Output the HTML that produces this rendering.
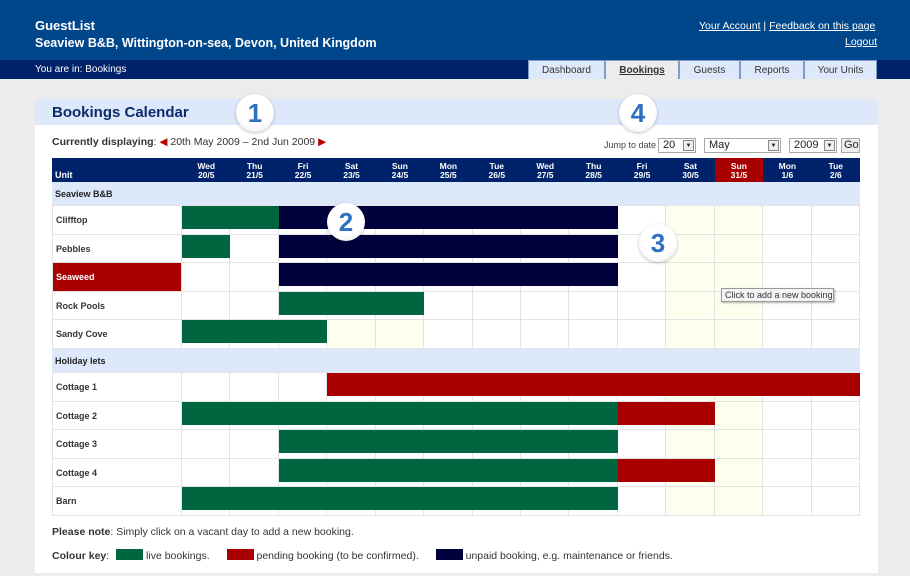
<!DOCTYPE html>
<html><head><meta charset="utf-8">
<style>
*{box-sizing:border-box;margin:0;padding:0}
body{width:910px;height:576px;background:#ececec;font-family:"Liberation Sans",sans-serif;position:relative;overflow:hidden;font-size:11px}
.abs{position:absolute;white-space:nowrap}
#header{left:0;top:0;width:910px;height:60px;background:#00468a}
#navbar{left:0;top:60px;width:910px;height:19px;background:#00226a}
.tab{position:absolute;top:60px;height:19px;background:#dde8fb;border:1px solid #7f9cc8;border-bottom:none;font-size:10px;color:#333;text-align:center;line-height:19px}
.tab.active{background:#ececec;font-weight:bold;text-decoration:underline}
#panel{left:35px;top:99px;width:843px;height:474px;background:#fff}
#titlebar{left:35px;top:99px;width:843px;height:26px;background:#dde8fb}
.badge{position:absolute;width:38px;height:38px;border-radius:50%;background:radial-gradient(circle at 50% 40%,#fff 55%,#e8e8e8 100%);box-shadow:0 1px 3px rgba(0,0,0,.25);color:#2f6fc0;font-weight:bold;font-size:26px;text-align:center;line-height:38px}
.sel{position:absolute;top:138px;height:15px;border:1px solid #aaa;background:#fff;font-size:11px;line-height:13px;padding-left:4px;color:#222}
.sel .arr{position:absolute;right:1px;top:1px;width:11px;height:11px;border:1px solid #888;background:#eee;font-size:6px;line-height:10px;text-align:center}
</style></head><body>
<div id="header" class="abs"></div>
<div class="abs" style="left:35px;top:18px;color:#fff;font-weight:bold;font-size:13px">GuestList</div>
<div class="abs" style="left:35px;top:36px;color:#fff;font-weight:bold;font-size:12.5px">Seaview B&amp;B, Wittington-on-sea, Devon, United Kingdom</div>
<div class="abs" style="left:699px;top:20px;color:#fff;font-size:10.5px"><span style="text-decoration:underline">Your Account</span> | <span style="text-decoration:underline">Feedback on this page</span></div>
<div class="abs" style="left:845px;top:36px;color:#fff;font-size:10.5px;text-decoration:underline">Logout</div>
<div id="navbar" class="abs"></div>
<div class="abs" style="left:35px;top:64px;color:#fff;font-size:10px">You are in: Bookings</div>
<div class="tab" style="left:528px;width:77px">Dashboard</div>
<div class="tab active" style="left:605px;width:74px">Bookings</div>
<div class="tab" style="left:679px;width:61px">Guests</div>
<div class="tab" style="left:740px;width:64px">Reports</div>
<div class="tab" style="left:804px;width:73px">Your Units</div>

<div id="panel" class="abs"></div>
<div id="titlebar" class="abs"></div>
<div class="abs" style="left:52px;top:104px;font-size:15px;font-weight:bold;color:#0d2a6b">Bookings Calendar</div>
<div class="abs" style="left:52px;top:136px;font-size:10.5px;color:#333"><b>Currently displaying</b>: <span style="color:#b00">◀</span> 20th May 2009 – 2nd Jun 2009 <span style="color:#b00">▶</span></div>
<div class="abs" style="left:604px;top:140px;font-size:9px;color:#444">Jump to date</div>
<div class="sel" style="left:658px;width:38px">20<span class="arr">▼</span></div>
<div class="sel" style="left:704px;width:77px">May<span class="arr">▼</span></div>
<div class="sel" style="left:789px;width:48px">2009<span class="arr">▼</span></div>
<div class="sel" style="left:841px;width:19px;padding-left:2px;background:#eee">Go</div>

<div id="grid" class="abs" style="left:0;top:0"></div>

<div class="abs" style="left:52px;top:526px;font-size:10.5px;color:#333"><b>Please note</b>: Simply click on a vacant day to add a new booking.</div>
<div class="abs" style="left:52px;top:549px;font-size:10.5px;color:#333;white-space:nowrap"><b>Colour key</b>:
<span style="display:inline-block;width:27px;height:11px;background:#006640;vertical-align:-1px;margin-left:4px"></span> live bookings.
<span style="display:inline-block;width:27px;height:11px;background:#a80000;vertical-align:-1px;margin-left:14px"></span> pending booking (to be confirmed).
<span style="display:inline-block;width:27px;height:11px;background:#00003c;vertical-align:-1px;margin-left:14px"></span> unpaid booking, e.g. maintenance or friends.</div>

<div class="abs" style="left:721px;top:288px;width:113px;height:14px;background:#f4f4f4;border:1px solid #999;box-shadow:1px 1px 2px rgba(0,0,0,.3);font-size:9px;color:#333;line-height:12px;padding-left:3px">Click to add a new booking</div>
<div class="badge" style="left:236px;top:94px">1</div>
<div class="badge" style="left:327px;top:203px">2</div>
<div class="badge" style="left:639px;top:224px">3</div>
<div class="badge" style="left:619px;top:94px">4</div>

<script>
const dayNames = ["Wed","Thu","Fri","Sat","Sun","Mon","Tue","Wed","Thu","Fri","Sat","Sun","Mon","Tue"];
const dayDates = ["20/5","21/5","22/5","23/5","24/5","25/5","26/5","27/5","28/5","29/5","30/5","31/5","1/6","2/6"];
const units = ["#Seaview B&B","Clifftop","Pebbles","Seaweed","Rock Pools","Sandy Cove","#Holiday lets","Cottage 1","Cottage 2","Cottage 3","Cottage 4","Barn"];
// bookings: [unit, startDay, days]
const liveBookings = [["Clifftop",0,2],["Pebbles",0,1],["Rock Pools",2,3],["Sandy Cove",0,3],["Cottage 2",0,9],["Cottage 3",2,7],["Cottage 4",2,7],["Barn",0,9]];
const pendingBookings = [["Cottage 1",3,11],["Cottage 2",9,2],["Cottage 4",9,2]];
const unpaidBookings = [["Clifftop",2,7],["Pebbles",2,7],["Seaweed",2,7]];
const highlightUnit = "Seaweed";
const todayIndex = 11;

const G = document.getElementById('grid');
const X0 = 52, UNITW = 130, DX0 = 182, DAYW = (860-182)/14;
const HEADY = 158, HEADH = 24, GRPH = 24, ROWH = 28.6;
function xDay(i){ return DX0 + i*DAYW; }
function add(el){ G.appendChild(el); return el; }
function div(style){ const d=document.createElement('div'); d.style.cssText='position:absolute;white-space:nowrap;'+style; return d; }

let h = add(div(`left:${X0}px;top:${HEADY}px;width:${860-X0}px;height:${HEADH}px;background:#00226a`));


let ul = add(div(`left:${X0+3}px;top:${HEADY+12}px;color:#fff;font-size:9px;font-weight:bold`));
ul.textContent='Unit';


dayNames.forEach((n,i)=>{
  const c = add(div(`left:${xDay(i)}px;top:${HEADY}px;width:${DAYW}px;height:${HEADH}px;color:#fff;font-size:8.5px;font-weight:bold;text-align:center;line-height:9px;padding-top:4px;${i===todayIndex?'background:#a80000;':''}`));
  c.innerHTML = n+'<br>'+dayDates[i];
  
  
});

const rowY = {};
let y = HEADY+HEADH;
units.forEach(u=>{
  if(u[0]==='#'){
    const g = add(div(`left:${X0}px;top:${y}px;width:${860-X0}px;height:${GRPH}px;background:#dde8fb;border-bottom:1px solid #e3e3e3`));
    
    
    const t = add(div(`left:${X0+3}px;top:${y+7}px;font-size:9px;font-weight:bold;color:#222`));
    t.textContent = u.slice(1);
    
    
    y += GRPH;
  } else {
    rowY[u] = y;
    const hl = u===highlightUnit;
    const lc = add(div(`left:${X0}px;top:${y}px;width:${UNITW}px;height:${ROWH}px;border-left:1px solid #e3e3e3;border-bottom:1px solid #e3e3e3;border-right:1px solid #e3e3e3;background:${hl?'#a80000':'#fff'};color:${hl?'#fff':'#333'};font-size:9px;font-weight:bold;padding:9px 0 0 3px`));
    lc.textContent = u;
    
    
    for(let i=0;i<14;i++){
      const we = (i===10||i===11) || (u==='Sandy Cove' && (i===3||i===4));
      const c = add(div(`left:${xDay(i)}px;top:${y}px;width:${DAYW}px;height:${ROWH}px;border-right:1px solid #e3e3e3;border-bottom:1px solid #e3e3e3;background:${we?'#fffff0':'#fff'}`));
      
      
    }
    y += ROWH;
  }
});

function drawBars(list, color, name){
  list.forEach(b=>{
    const ry = rowY[b[0]];
    const e = add(div(`left:${xDay(b[1])}px;top:${ry}px;width:${b[2]*DAYW}px;height:${ROWH-5.5}px;background:${color}`));
    
    
  });
}
drawBars(liveBookings,'#006640','live-booking-bar');
drawBars(pendingBookings,'#a80000','pending-booking-bar');
drawBars(unpaidBookings,'#00003c','unpaid-booking-bar');
</script>
</body></html>
